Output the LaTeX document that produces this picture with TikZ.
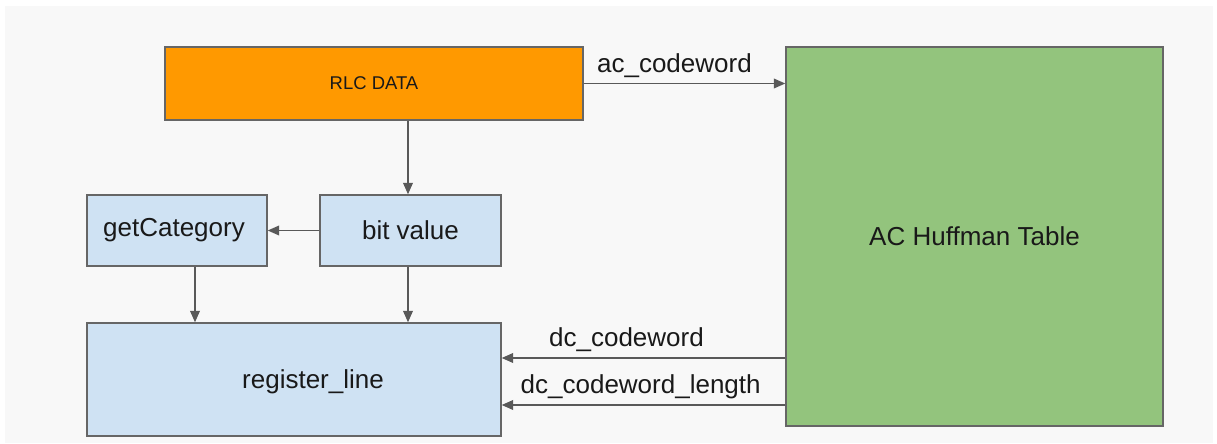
\documentclass[tikz,border=0pt]{standalone}
\usepackage{fontspec}
\setmainfont{Liberation Sans}
\usepackage{tikz}
\usetikzlibrary{arrows.meta}
\usetikzlibrary{backgrounds}
\definecolor{rlcorange}{HTML}{FF9900}
\definecolor{tablegreen}{HTML}{93C47D}
\definecolor{blockblue}{HTML}{CFE2F3}
\definecolor{wiregray}{HTML}{595959}
\definecolor{pagegray}{HTML}{F8F8F8}
\tikzset{basic/.style={draw=black!60,line width=0.8pt,text=black!90,
                       text badly centered,inner sep=0pt}}
\tikzset{block/.style={basic,fill=blockblue,minimum height=1.42cm}}
\def\fontbig{\fontsize{14.8}{17}\selectfont}

\begin{document}
\begin{tikzpicture}[draw=wiregray, line width=0.85pt,
    >={Triangle[length=6.5pt,width=5.5pt]}]
    \tikzstyle{wire}=[->,draw=wiregray]
    \tikzstyle{wirelabel}=[font=\fontbig,text=black!90,inner sep=3pt]

    % page
    \useasboundingbox (0,0) rectangle (24.34,8.86);
    \fill[pagegray] (0.1,0) rectangle (24.26,8.74);

    % blocks
    \node[basic,fill=rlcorange,minimum width=8.36cm,minimum height=1.46cm,
          font=\fontsize{10.5}{12}\selectfont] (rlc) at (7.48,7.19) {RLC DATA};
    \node[basic,fill=tablegreen,minimum width=7.54cm,minimum height=7.58cm,
          font=\fontbig] (huff) at (19.49,4.13) {AC Huffman Table};
    \node[block,minimum width=3.6cm,font=\fontbig] (getcat) at (3.54,4.25) {};
    \node[font=\fontbig,text=black!90] (getcattext) at ([xshift=-0.06cm]getcat.center) {getCategory};
    \node[block,minimum width=3.62cm,font=\fontbig] (bitval) at (8.21,4.25) {bit value};
    \node[block,minimum width=8.28cm,minimum height=2.26cm] (reg) at (5.88,1.27) {};
    \node[font=\fontbig,text=black!90] (regtext) at ([xshift=0.38cm,yshift=-0.04cm]reg.center) {register\_line};

    % connectors
    \draw[wire] (rlc.east) -- (huff.west |- rlc.east)
          node[wirelabel,above,pos=0.45] {ac\_codeword};
    \draw[wire] ([xshift=-0.05cm]bitval.north |- rlc.south) -- ([xshift=-0.05cm]bitval.north);
    \draw[wire] (bitval.west) -- (getcat.east);
    \draw[wire] ([xshift=0.36cm]getcat.south) -- ([xshift=0.36cm]getcat.south |- reg.north);
    \draw[wire] ([xshift=-0.05cm]bitval.south) -- ([xshift=-0.05cm]bitval.south |- reg.north);

    \coordinate (dcin) at ([yshift=0.43cm]reg.east);
    \coordinate (lenin) at ([yshift=-0.51cm]reg.east);
    \draw[wire] (huff.west |- dcin) -- (dcin)
          node[wirelabel,above,pos=0.56] {dc\_codeword};
    \draw[wire] (huff.west |- lenin) -- (lenin)
          node[wirelabel,above,pos=0.51] {dc\_codeword\_length};
\end{tikzpicture}
\end{document}
